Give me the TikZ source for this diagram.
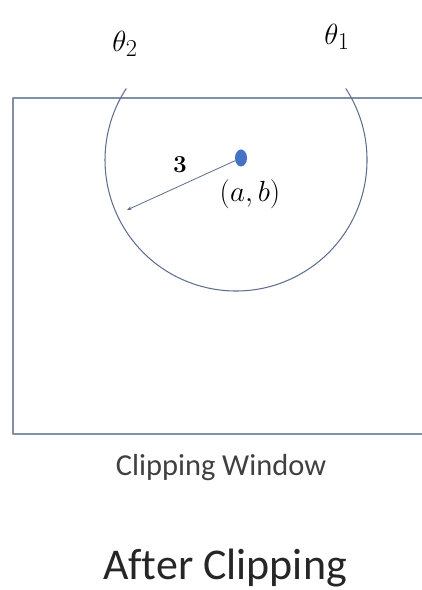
\documentclass[tikz,border=0pt]{standalone}
\usepackage{amsmath}
\usepackage{fontspec}
\usetikzlibrary{shapes.geometric,arrows.meta}
\newfontfamily\calfont{Carlito}[Ligatures=NoCommon]
\definecolor{winline}{HTML}{8290A6}
\definecolor{circline}{HTML}{5F6F8E}
\definecolor{centerdot}{HTML}{4472C4}
\definecolor{captext}{HTML}{404040}
\begin{document}
\begin{tikzpicture}[x=0.03cm,y=0.03cm,line cap=round,line join=round]
\useasboundingbox (0,0) rectangle (422,590);
% clipping window (right side runs off the page)
\draw[winline,line width=1.1pt] (423,492) -- (13,492) -- (13,156) -- (423,156);
% clipped circle
\draw[circline,line width=0.9pt] (236,430) +(33:131) arc[start angle=33,end angle=-213,radius=131];
\node[fill=centerdot,ellipse,inner sep=0pt,minimum width=12*0.03cm,minimum height=17*0.03cm] (cen) at (241,432) {};
\coordinate (rim) at (127,380);
\draw[circline,line width=0.7pt,-{Stealth[length=4pt]}] (cen) -- (rim);
\node[font=\fontsize{20}{24}\selectfont] (rad) at (180,425) {$\boldsymbol{3}$};
\node[font=\fontsize{26}{30}\selectfont] (ab) at (250,396) {$(a,b)$};
\node[font=\fontsize{30}{34}\selectfont] (th2) at (125,546) {$\theta_2$};
\node[font=\fontsize{30}{34}\selectfont] (th1) at (337,553) {$\theta_1$};
\node[font=\calfont\fontsize{26}{30}\selectfont,text=captext] (win) at (221,122) {Clipping Window};
\node[font=\calfont\fontsize{37.5}{42}\selectfont,text=black!85,inner sep=0pt,anchor=base] (title) at (225,10) {After Clipping};
\end{tikzpicture}
\end{document}
